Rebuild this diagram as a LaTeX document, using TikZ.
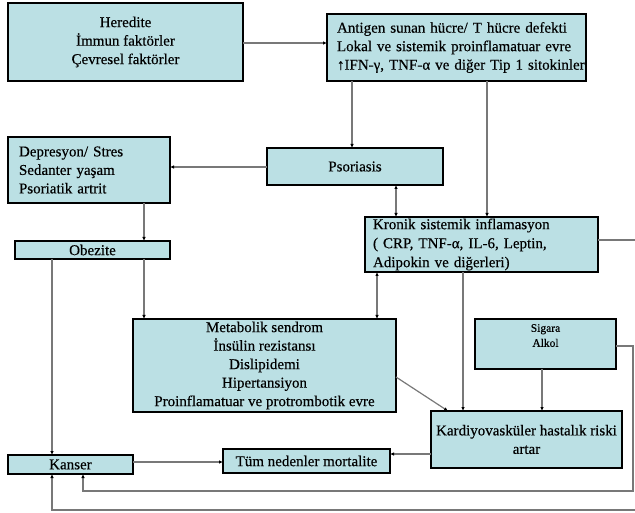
\documentclass[tikz,border=0pt]{standalone}
\usepackage{fontspec}
\setmainfont{Liberation Serif}[FakeBold=0.4]
\usetikzlibrary{arrows.meta,calc}
\definecolor{boxfill}{RGB}{187,224,228}
\definecolor{linegray}{RGB}{120,120,120}
\begin{document}
\begin{tikzpicture}[x=1pt,y=-1pt,
  box/.style={draw=black,line width=1.1pt,fill=boxfill,inner sep=0pt,outer sep=0pt,font=\fontsize{15}{18.5}\selectfont},
  conn/.style={draw=linegray,line width=1.2pt,-{Latex[length=4pt,width=3.5pt,color=black]}},
  both/.style={draw=linegray,line width=1.2pt,{Latex[length=4pt,width=3.5pt,color=black]}-{Latex[length=4pt,width=3.5pt,color=black]}}]
\useasboundingbox (0,0) rectangle (635,513);
% boxes
\node[box,minimum width=235pt,minimum height=78pt,align=center] (her) at (125.5,42) {Heredite\\İmmun faktörler\\Çevresel faktörler};
\node[box,minimum width=259pt,minimum height=67pt,text width=239pt,align=left] (ant) at (456.5,47.5) {\mbox{Antigen sunan hücre/ T hücre defekti}\\\mbox{Lokal ve sistemik proinflamatuar evre}\\\mbox{↑IFN-γ, TNF-α ve diğer Tip 1 sitokinler}};
\node[box,minimum width=176pt,minimum height=37pt,align=center] (pso) at (355,166.5) {Psoriasis};
\node[box,minimum width=162pt,minimum height=66pt,text width=140pt,align=left] (dep) at (89,170) {Depresyon/ Stres\\Sedanter yaşam\\Psoriatik artrit};
\node[box,minimum width=155pt,minimum height=18pt,align=center] (obe) at (92.5,250) {Obezite};
\node[box,minimum width=233pt,minimum height=55pt,text width=217pt,align=left,font=\fontsize{15}{19}\selectfont] (kro) at (481.5,244.5) {Kronik sistemik inflamasyon\\( CRP, TNF-α, IL-6, Leptin,\\Adipokin ve diğerleri)};
\node[box,minimum width=263pt,minimum height=93pt,align=center] (met) at (264.5,365.5) {Metabolik sendrom\\İnsülin rezistansı\\Dislipidemi\\Hipertansiyon\\Proinflamatuar ve protrombotik evre};
\node[box,minimum width=141pt,minimum height=50pt] (sig) at (545.5,344) {};
\node[font=\fontsize{11.5}{15}\selectfont,align=center,anchor=north,inner sep=0pt] (sigt) at ($(sig.north)+(0,5)$) {Sigara\\Alkol};
\node[box,minimum width=191pt,minimum height=57pt,align=center] (kar) at (526.5,439.5) {Kardiyovasküler hastalık riski\\artar};
\node[box,minimum width=167pt,minimum height=24pt,align=center] (tum) at (306.5,461) {Tüm nedenler mortalite};
\node[box,minimum width=125pt,minimum height=19pt,align=center] (kan) at (70.5,464.5) {Kanser};
% helper coordinates
\coordinate (rA) at (633,346);
\coordinate (rB) at (633,491);
\coordinate (lB) at (83,491);
\coordinate (rC) at (645,240);
\coordinate (rD) at (645,510);
\coordinate (lD) at (52,510);
% connectors
\draw[conn] (her.east |- 0,43) -- (ant.west |- 0,43);
\draw[conn] (ant.south -| 352,0) -- (pso.north -| 352,0);
\draw[conn] (ant.south -| 487,0) -- (kro.north -| 487,0);
\draw[conn] (pso.west |- 0,167) -- (dep.east |- 0,167);
\draw[both] (pso.south -| 396,0) -- (kro.north -| 396,0);
\draw[conn] (dep.south -| 144,0) -- (obe.north -| 144,0);
\draw[conn] (obe.south -| 144,0) -- (met.north -| 144,0);
\draw[conn] (obe.south -| 52,0) -- (kan.north -| 52,0);
\draw[both] (kro.south -| 377,0) -- (met.north -| 377,0);
\draw[conn] (kro.south -| 463,0) -- (kar.north -| 463,0);
\draw[conn] (met.east |- 0,377) -- (kar.north -| 448,0);
\draw[conn] (sig.south -| 542,0) -- (kar.north -| 542,0);
\draw[conn] (kar.west |- 0,454) -- (tum.east |- 0,454);
\draw[conn] (kan.east |- 0,462) -- (tum.west |- 0,462);
\draw[conn] (sig.east |- rA) -- (rA) -- (rB) -- (lB) -- (kan.south -| lB);
\draw[conn] (kro.east |- rC) -- (rC) -- (rD) -- (lD) -- (kan.south -| lD);
\end{tikzpicture}
\end{document}
